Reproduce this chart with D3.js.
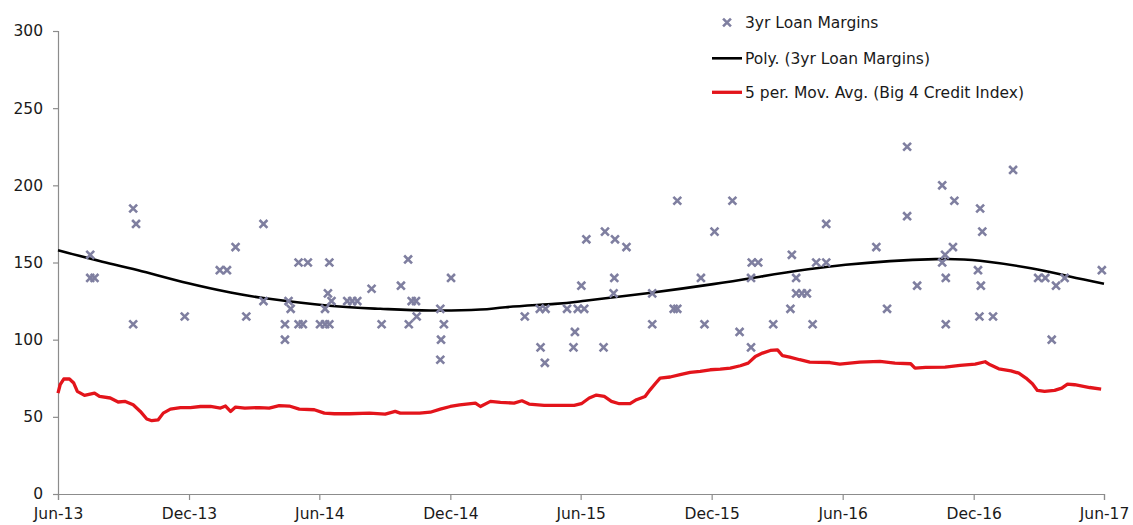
<!DOCTYPE html>
<html>
<head>
<meta charset="utf-8">
<script src="https://cdn.jsdelivr.net/npm/d3@7"></script>
<style>
  html, body { margin: 0; padding: 0; background: #ffffff; }
  svg { display: block; }
  text { font-family: "DejaVu Sans", Verdana, sans-serif; fill: #1a1a1a; }
</style>
</head>
<body>
<svg id="chart" width="1133" height="525"></svg>
<script>
// 3yr loan margins (bps) by deal date
const loanDates = [
  "2013-07-16","2013-07-16","2013-07-22","2013-09-14","2013-09-18","2013-09-14","2013-11-25",
  "2014-01-13","2014-01-23","2014-02-04","2014-02-19","2014-03-15","2014-03-15","2014-04-14",
  "2014-04-14","2014-04-19","2014-04-22","2014-05-03","2014-05-16","2014-05-03","2014-05-09",
  "2014-06-02","2014-06-09","2014-06-15","2014-06-09","2014-06-13","2014-06-15","2014-06-18",
  "2014-07-10","2014-07-17","2014-07-24","2014-08-13","2014-08-27","2014-09-23","2014-10-03",
  "2014-10-04","2014-10-08","2014-10-14","2014-10-15","2014-11-17","2014-11-18","2014-11-17",
  "2014-11-22","2014-12-02","2015-03-15","2015-04-05","2015-04-13","2015-04-06","2015-04-12",
  "2015-05-13","2015-05-24","2015-05-22","2015-05-28","2015-06-02","2015-06-06","2015-06-09",
  "2015-07-03","2015-07-05","2015-07-18","2015-07-17","2015-07-19","2015-08-04","2015-09-09",
  "2015-09-09","2015-10-09","2015-10-14","2015-10-14","2015-11-16","2015-11-21","2015-12-05",
  "2015-12-30","2016-01-09","2016-01-25","2016-01-25","2016-01-26","2016-02-04","2016-02-25",
  "2016-03-20","2016-03-22","2016-03-28","2016-03-28","2016-04-05","2016-04-12","2016-04-20",
  "2016-04-25","2016-05-09","2016-05-09","2016-07-18","2016-08-02","2016-08-30","2016-08-30",
  "2016-09-13","2016-10-18","2016-10-18","2016-10-22","2016-10-23","2016-10-23","2016-11-02",
  "2016-11-04","2016-12-07","2016-12-09","2016-12-10","2016-12-11","2016-12-13","2016-12-28",
  "2017-01-25","2017-03-01","2017-03-11","2017-03-20","2017-03-26","2017-04-07","2017-05-29"
];
const loanMargins = [
  155,140,140,185,175,110,115,
  145,145,160,115,175,125,110,
  100,125,120,150,150,110,110,
  110,110,110,120,130,150,125,
  125,125,125,133,110,135,152,
  110,125,125,115,120,100,87,
  110,140,115,120,120,95,85,
  120,105,95,120,135,120,165,
  95,170,140,130,165,160,130,
  110,120,120,190,140,110,170,
  190,105,95,140,150,150,110,
  120,155,140,130,130,130,110,
  150,150,175,160,120,225,180,
  135,200,150,155,140,110,160,
  190,145,115,185,135,170,115,
  210,140,140,100,135,140,145
];

// Polynomial trendline of the loan margins, sampled along the curve
const trendDates = [
  "2013-06-01","2013-07-29","2013-09-21","2013-11-30","2014-01-28","2014-03-15","2014-06-15",
  "2014-08-25","2014-11-03","2015-01-12","2015-02-16","2015-04-26","2015-06-07","2015-09-02",
  "2015-12-03","2016-02-08","2016-06-05","2016-10-09","2016-12-10","2017-02-19","2017-04-14",
  "2017-06-01"
];
const trendValues = [
  158,151,145,136.5,130.5,127,122,
  120,118.9,119.5,121,123.2,125.2,130.1,
  136,140.9,148.5,152.2,151.1,146.3,140.9,
  136.2
];

// Big 4 credit index, 5-period moving average
const creditDates = [
  "2013-06-01","2013-06-04","2013-06-09","2013-06-17","2013-06-23","2013-06-28","2013-07-08",
  "2013-07-22","2013-07-29","2013-08-13","2013-08-24","2013-09-03","2013-09-14","2013-09-24",
  "2013-10-03","2013-10-10","2013-10-19","2013-10-26","2013-11-05","2013-11-19","2013-12-03",
  "2013-12-17","2013-12-31","2014-01-14","2014-01-21","2014-01-28","2014-02-04","2014-02-17",
  "2014-03-09","2014-03-23","2014-04-06","2014-04-20","2014-05-04","2014-05-25","2014-06-08",
  "2014-06-22","2014-07-13","2014-08-10","2014-09-01","2014-09-15","2014-09-22","2014-10-19",
  "2014-11-03","2014-11-17","2014-12-01","2014-12-14","2015-01-05","2015-01-12","2015-01-26",
  "2015-02-09","2015-02-28","2015-03-11","2015-03-21","2015-04-11","2015-05-02","2015-05-23",
  "2015-06-02","2015-06-13","2015-06-23","2015-07-04","2015-07-14","2015-07-25","2015-08-09",
  "2015-08-18","2015-08-30","2015-09-06","2015-09-14","2015-09-20","2015-10-04","2015-10-18",
  "2015-11-01","2015-11-15","2015-11-29","2015-12-13","2015-12-27","2016-01-10","2016-01-21",
  "2016-01-31","2016-02-10","2016-02-21","2016-03-02","2016-03-09","2016-03-19","2016-04-02",
  "2016-04-16","2016-05-14","2016-05-28","2016-06-25","2016-07-23","2016-08-13","2016-09-04",
  "2016-09-10","2016-09-25","2016-10-22","2016-11-12","2016-12-03","2016-12-17","2016-12-24",
  "2017-01-05","2017-01-22","2017-02-02","2017-02-12","2017-02-21","2017-02-28","2017-03-10",
  "2017-03-24","2017-04-03","2017-04-11","2017-04-21","2017-05-12","2017-05-28"
];
const creditMA = [
  65.4,70.8,74.5,74.5,71.9,66.5,63.9,
  65.4,63.2,62.2,59.6,60,57.8,53.5,
  48.6,47.5,48.1,52.4,55,56,56,
  56.7,56.7,55.7,57,53.5,56.3,55.7,
  56,55.7,57.2,57,55,54.6,52.4,
  52,52,52.4,51.8,53.5,52.4,52.4,
  53,55,56.7,57.8,58.9,56.7,60,
  59.4,58.9,60.4,58.3,57.4,57.4,57.4,
  58.5,62.2,64.1,63.2,60,58.5,58.5,
  61.1,63.2,67.5,71.9,75.1,75.8,77.3,
  78.8,79.4,80.5,80.9,81.6,83.1,84.8,
  89.1,91.3,93,93.4,89.6,88.7,87,
  85.5,85.2,84.2,85.5,85.9,84.8,84.4,
  81.6,82,82.2,83.3,84.2,85.7,83.7,
  81.1,79.8,78.3,75.1,71.4,67.1,66.5,
  67.1,68.6,71.2,70.8,69,68
];

const yTicks = [0, 50, 100, 150, 200, 250, 300];
const xTicks = [
  "2013-06-01","2013-12-01","2014-06-01","2014-12-01","2015-06-01",
  "2015-12-01","2016-06-01","2016-12-01","2017-06-01"
];
const xTickLabels = ["Jun-13","Dec-13","Jun-14","Dec-14","Jun-15","Dec-15","Jun-16","Dec-16","Jun-17"];

const legendLabels = [
  "3yr Loan Margins",
  "Poly. (3yr Loan Margins)",
  "5 per. Mov. Avg. (Big 4 Credit Index)"
];

const parse = d3.timeParse("%Y-%m-%d");
const margin = { top: 31, right: 29, bottom: 31, left: 58 };
const width = 1133, height = 525;

const svg = d3.select("#chart");

const x = d3.scaleTime()
  .domain([parse(xTicks[0]), parse(xTicks[xTicks.length - 1])])
  .range([margin.left, width - margin.right]);
const y = d3.scaleLinear()
  .domain([0, 300])
  .range([height - margin.bottom, margin.top]);

const axisColor = "#8c8c8c";

// Y axis
const yAxis = svg.append("g")
  .attr("transform", `translate(${margin.left},0)`)
  .call(d3.axisLeft(y).tickValues(yTicks).tickSize(5).tickPadding(10));
// X axis
const xAxis = svg.append("g")
  .attr("transform", `translate(0,${height - margin.bottom})`)
  .call(d3.axisBottom(x)
    .tickValues(xTicks.map(parse))
    .tickFormat((d, i) => xTickLabels[i])
    .tickSize(6).tickPadding(8));

[yAxis, xAxis].forEach(g => {
  g.select(".domain").attr("stroke", axisColor).attr("stroke-width", 1.2);
  g.selectAll(".tick line").attr("stroke", axisColor).attr("stroke-width", 1.2);
  g.selectAll(".tick text")
    .attr("fill", "#1a1a1a")
    .style("font-size", "15.5px")
    .style("font-family", '"DejaVu Sans", Verdana, sans-serif');
});

// Credit index moving average
const creditLine = d3.line()
  .x((d, i) => x(parse(creditDates[i])))
  .y(d => y(d));
svg.append("path")
  .datum(creditMA)
  .attr("fill", "none")
  .attr("stroke", "#e3141b")
  .attr("stroke-width", 3.3)
  .attr("stroke-linejoin", "round")
  .attr("d", creditLine);

// Polynomial trendline
const trendLine = d3.line()
  .x((d, i) => x(parse(trendDates[i])))
  .y(d => y(d))
  .curve(d3.curveNatural);
svg.append("path")
  .datum(trendValues)
  .attr("fill", "none")
  .attr("stroke", "#000000")
  .attr("stroke-width", 2.6)
  .attr("d", trendLine);

// Loan margin markers (stroked crosses)
const markColor = "#7f7fa0";
const cross = d3.symbol().type(d3.symbolTimes).size(42);
svg.append("g")
  .selectAll("path")
  .data(loanMargins)
  .join("path")
  .attr("transform", (d, i) => `translate(${x(parse(loanDates[i]))},${y(d)})`)
  .attr("d", cross)
  .attr("fill", "none")
  .attr("stroke", markColor)
  .attr("stroke-width", 2.6);

// Legend
const legend = svg.append("g");
const lx = 712, lw = 30, tx = 745;
const rows = [22.5, 58.3, 92.3];

legend.append("path")
  .attr("transform", `translate(${lx + lw / 2},${rows[0]})`)
  .attr("d", cross)
  .attr("fill", "none")
  .attr("stroke", markColor)
  .attr("stroke-width", 2.6);
legend.append("line")
  .attr("x1", lx).attr("x2", lx + lw).attr("y1", rows[1]).attr("y2", rows[1])
  .attr("stroke", "#000000").attr("stroke-width", 2.6);
legend.append("line")
  .attr("x1", lx).attr("x2", lx + lw).attr("y1", rows[2]).attr("y2", rows[2])
  .attr("stroke", "#e3141b").attr("stroke-width", 3.3);

legend.selectAll("text")
  .data(legendLabels)
  .join("text")
  .attr("x", tx)
  .attr("y", (d, i) => rows[i])
  .attr("dy", "0.35em")
  .style("font-size", "15.5px")
  .text(d => d);
</script>
</body>
</html>
